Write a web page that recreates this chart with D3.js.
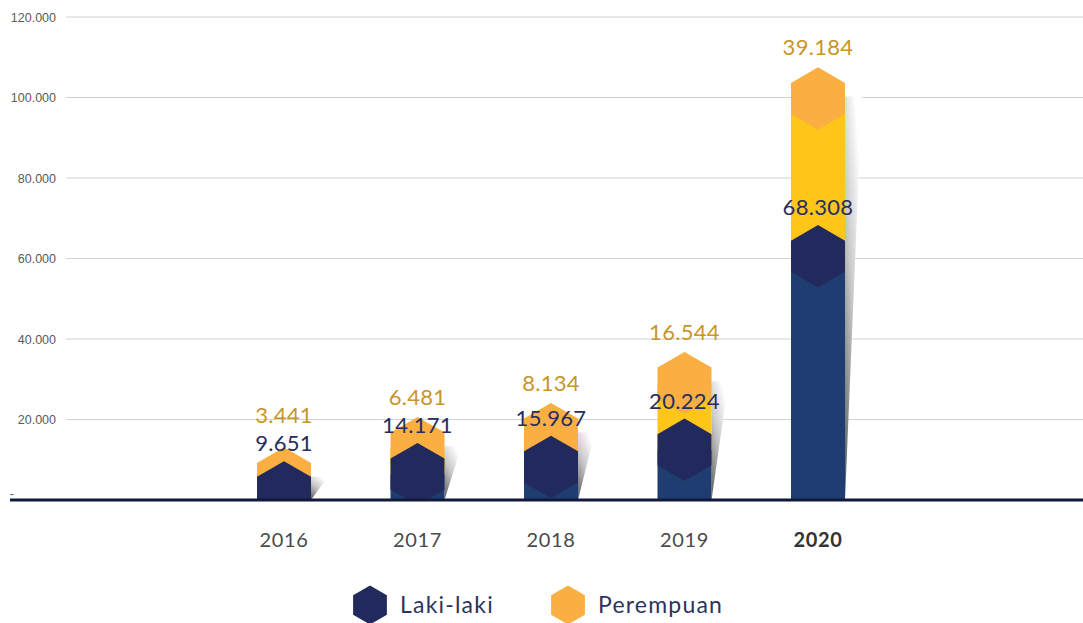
<!DOCTYPE html>
<html>
<head>
<meta charset="utf-8">
<script src="https://cdn.jsdelivr.net/npm/d3@7"></script>
<style>
  body { margin: 0; background: #fff; }
  svg { display: block; font-family: Lato, 'Noto Sans', sans-serif; }
</style>
</head>
<body>
<svg id="chart" width="1083" height="623"></svg>
<script>
const years = ['2016', '2017', '2018', '2019', '2020'];
const lakiLaki = [9651, 14171, 15967, 20224, 68308];
const perempuan = [3441, 6481, 8134, 16544, 39184];
const yTicks = [0, 20000, 40000, 60000, 80000, 100000, 120000];
const seriesNames = ['Laki-laki', 'Perempuan'];

const colors = {
  navyHex: '#222a5d',
  blueBar: '#1f3d71',
  yellowBar: '#fec619',
  orangeHex: '#fbae42',
  goldText: '#c99528',
  navyText: '#262e60',
};

const fmt = v => d3.format(',')(v).replace(/,/g, '.');

const svg = d3.select('#chart');
const baseY = 500;
const barW = 54;
const hexR = barW / Math.sqrt(3); // pointy-top hexagon radius

const y = d3.scaleLinear().domain([0, 120000]).range([baseY, 17]);
const x = d3.scalePoint().domain(years).range([284, 818]);

// hexagon path centred at 0,0 (pointy top)
const hexPath = r => {
  const pts = d3.range(6).map(i => {
    const a = Math.PI / 3 * i - Math.PI / 2;
    return [r * Math.cos(a), r * Math.sin(a)];
  });
  return 'M' + pts.map(p => p.join(',')).join('L') + 'Z';
};

const defs = svg.append('defs');
defs.append('clipPath').attr('id', 'plot-clip')
  .append('rect').attr('x', 0).attr('y', 0).attr('width', 1083).attr('height', baseY);

const grad = defs.append('linearGradient').attr('id', 'shadow-grad')
  .attr('x1', 0.6).attr('y1', 0).attr('x2', 0).attr('y2', 1);
grad.append('stop').attr('offset', '0%').attr('stop-color', '#ffffff');
grad.append('stop').attr('offset', '45%').attr('stop-color', '#c8c8c8');
grad.append('stop').attr('offset', '100%').attr('stop-color', '#5a5a5a');

// gridlines + y tick labels
const yAxis = d3.axisLeft(y).tickValues(yTicks).tickSize(0)
  .tickFormat(d => (d === 0 ? '-' : fmt(d)));
const ga = svg.append('g').attr('transform', 'translate(56,0)').call(yAxis);
ga.select('.domain').remove();
ga.selectAll('text')
  .attr('x', 0)
  .attr('text-anchor', 'end')
  .style('font-family', "'Liberation Sans', Arial, sans-serif")
  .style('font-size', '12.5px')
  .style('fill', '#5a5a5a');
ga.selectAll('.tick').filter(d => d === 0).select('text')
  .attr('dy', '-0.2em').attr('x', -42);

svg.append('g')
  .selectAll('line')
  .data(yTicks.filter(d => d > 0))
  .join('line')
  .attr('x1', 66).attr('x2', 1083)
  .attr('y1', d => y(d)).attr('y2', d => y(d))
  .attr('stroke', '#d2d2d2').attr('stroke-width', 1);

const data = years.map((yr, i) => ({
  year: yr,
  laki: lakiLaki[i],
  per: perempuan[i],
  total: lakiLaki[i] + perempuan[i],
}));

// shadows
svg.append('g')
  .selectAll('path')
  .data(data)
  .join('path')
  .attr('d', d => {
    const xr = x(d.year) + barW / 2;
    const top = y(d.total) + hexR - 2;
    return `M${xr},${top}L${xr + 17},${top}L${xr},${baseY}Z`;
  })
  .attr('fill', 'url(#shadow-grad)');

const plot = svg.append('g').attr('clip-path', 'url(#plot-clip)');

// stacked bars
plot.selectAll('rect.blue')
  .data(data)
  .join('rect')
  .attr('class', 'blue')
  .attr('x', d => x(d.year) - barW / 2)
  .attr('width', barW)
  .attr('y', d => y(d.laki) + hexR)
  .attr('height', d => Math.max(0, baseY - y(d.laki) - hexR))
  .attr('fill', colors.blueBar);

plot.selectAll('rect.yellow')
  .data(data)
  .join('rect')
  .attr('class', 'yellow')
  .attr('x', d => x(d.year) - barW / 2)
  .attr('width', barW)
  .attr('y', d => y(d.total) + hexR)
  .attr('height', d => y(d.laki) - y(d.total) + 1)
  .attr('fill', colors.yellowBar);

// hexagon caps
plot.selectAll('path.hex-per')
  .data(data)
  .join('path')
  .attr('class', 'hex-per')
  .attr('d', hexPath(hexR))
  .attr('transform', d => `translate(${x(d.year)},${y(d.total) + hexR})`)
  .attr('fill', colors.orangeHex);

plot.selectAll('path.hex-laki')
  .data(data)
  .join('path')
  .attr('class', 'hex-laki')
  .attr('d', hexPath(hexR))
  .attr('transform', d => `translate(${x(d.year)},${y(d.laki) + hexR})`)
  .attr('fill', colors.navyHex);

// value labels
const labelSize = '22px';
const lakiLabelY = d => y(d.laki) - 18;
const perLabelY = d => Math.min(y(d.total) - 20, lakiLabelY(d) - 28);

svg.append('g')
  .selectAll('text')
  .data(data)
  .join('text')
  .attr('x', d => x(d.year))
  .attr('y', perLabelY)
  .attr('dy', '0.36em')
  .attr('text-anchor', 'middle')
  .style('font-size', labelSize)
  .style('letter-spacing', '0.3px')
  .style('fill', colors.goldText)
  .text(d => fmt(d.per));

svg.append('g')
  .selectAll('text')
  .data(data)
  .join('text')
  .attr('x', d => x(d.year))
  .attr('y', lakiLabelY)
  .attr('dy', '0.36em')
  .attr('text-anchor', 'middle')
  .style('font-size', labelSize)
  .style('letter-spacing', '0.3px')
  .style('fill', colors.navyText)
  .text(d => fmt(d.laki));

// baseline
svg.append('line')
  .attr('x1', 10).attr('x2', 1083)
  .attr('y1', baseY).attr('y2', baseY)
  .attr('stroke', '#111a3d').attr('stroke-width', 3);

// year labels
svg.append('g')
  .selectAll('text')
  .data(years)
  .join('text')
  .attr('x', d => x(d))
  .attr('y', 540)
  .attr('dy', '0.36em')
  .attr('text-anchor', 'middle')
  .style('font-size', '20px')
  .style('letter-spacing', '0.6px')
  .style('font-weight', d => (d === '2020' ? 700 : 400))
  .style('fill', d => (d === '2020' ? '#333' : '#4a4a4a'))
  .text(d => d);

// legend
const legend = svg.append('g')
  .selectAll('g')
  .data(seriesNames)
  .join('g')
  .attr('transform', (d, i) => `translate(${370 + i * 198},605)`);

legend.append('path')
  .attr('d', hexPath(19.5))
  .attr('fill', (d, i) => (i === 0 ? colors.navyHex : colors.orangeHex));

legend.append('text')
  .attr('x', 30)
  .attr('dy', '0.36em')
  .style('font-size', '23px')
  .style('letter-spacing', '1.2px')
  .style('fill', '#2b3360')
  .text(d => d);
</script>
</body>
</html>
